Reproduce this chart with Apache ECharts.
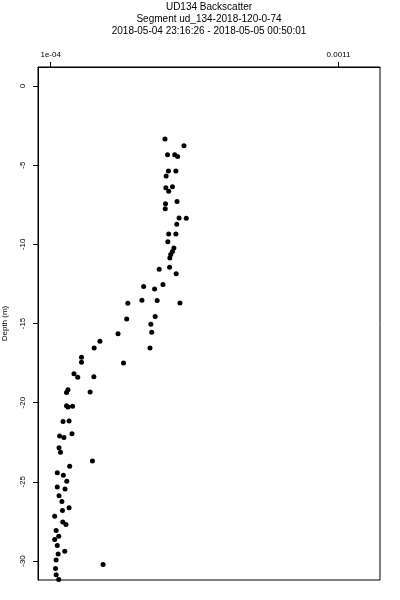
<!DOCTYPE html>
<html>
<head>
<meta charset="utf-8">
<script src="https://cdn.jsdelivr.net/npm/echarts@6/dist/echarts.min.js"></script>
<style>html,body{margin:0;padding:0;background:#fff;}#c{width:400px;height:600px;}</style>
</head>
<body>
<div id="c"></div>
<script>
var titleLines = ["UD134 Backscatter", "Segment ud_134-2018-120-0-74", "2018-05-04 23:16:26 - 2018-05-05 00:50:01"];
var yAxisName = "Depth (m)";
var xTicks = [0.0001, 0.0011];
var xTickLabels = ["1e-04", "0.0011"];
var yTicks = [0, -5, -10, -15, -20, -25, -30];
var backscatter = [
  0.000497, 0.000563, 0.000506, 0.000531, 0.000541, 0.000509, 0.000535, 0.000501,
  0.000500, 0.000523, 0.000510, 0.000539, 0.000499, 0.000498, 0.000546, 0.000571,
  0.000538, 0.000510, 0.000535, 0.000507, 0.000528, 0.000523, 0.000517, 0.000514,
  0.000477, 0.000513, 0.000536, 0.000423, 0.000461, 0.000490, 0.000368, 0.000417,
  0.000470, 0.000549, 0.000364, 0.000463, 0.000448, 0.000451, 0.000334, 0.000271,
  0.000445, 0.000251, 0.000207, 0.000207, 0.000353, 0.000181, 0.000194, 0.000250,
  0.000160, 0.000155, 0.000237, 0.000155, 0.000160, 0.000176, 0.000143, 0.000164,
  0.000131, 0.000146, 0.000174, 0.000129, 0.000134, 0.000245, 0.000166, 0.000123,
  0.000144, 0.000156, 0.000123, 0.000150, 0.000129, 0.000139, 0.000141, 0.000164,
  0.000114, 0.000142, 0.000153, 0.000119, 0.000128, 0.000114, 0.000123, 0.000126,
  0.000149, 0.000119, 0.000282, 0.000117, 0.000119, 0.000128
];
var depth = [
  -3.35, -3.77, -4.34, -4.34, -4.46, -5.37, -5.37, -5.68,
  -6.42, -6.36, -6.65, -7.30, -7.43, -7.75, -8.33, -8.35,
  -8.73, -9.34, -9.34, -9.83, -10.23, -10.45, -10.64, -10.86,
  -11.57, -11.45, -11.85, -12.67, -12.82, -12.54, -13.72, -13.53,
  -13.55, -13.70, -14.71, -14.56, -15.04, -15.55, -15.64, -16.12,
  -16.54, -16.54, -17.13, -17.44, -17.49, -18.18, -18.39, -18.37,
  -19.19, -19.36, -19.32, -20.20, -20.28, -20.22, -21.19, -21.15,
  -22.10, -22.20, -21.97, -22.85, -23.13, -23.69, -24.01, -24.43,
  -24.58, -24.96, -25.33, -25.46, -25.88, -26.24, -26.81, -26.64,
  -27.17, -27.54, -27.70, -28.07, -28.43, -28.64, -29.02, -29.55,
  -29.38, -29.94, -30.22, -30.47, -30.87, -31.17
];

var points = backscatter.map(function (v, i) { return [v, depth[i]]; });
var FONT = "Liberation Sans, Arial, Helvetica, sans-serif";

var chart = echarts.init(document.getElementById('c'), null, {renderer: 'canvas'});
chart.setOption({
  animation: false,
  backgroundColor: '#ffffff',
  title: titleLines.map(function (t, i) {
    return {
      text: t,
      left: 209,
      top: 1.5 + i * 11.7,
      textAlign: 'center',
      padding: 0,
      textStyle: {fontFamily: FONT, fontSize: 10, fontWeight: 'normal', color: '#000', lineHeight: 12}
    };
  }),
  grid: {
    left: 38, right: 20, top: 67, bottom: 20,
    outerBoundsMode: 'none',
    containLabel: false,
    show: true, borderColor: '#000', borderWidth: 1, backgroundColor: 'transparent'
  },
  xAxis: {
    type: 'value',
    position: 'top',
    min: 0.000056,
    max: 0.001244,
    splitLine: {show: false},
    axisLine: {show: true, onZero: false, lineStyle: {color: '#000', width: 1}},
    axisTick: {show: true, inside: false, length: 5, customValues: xTicks, lineStyle: {color: '#000'}},
    axisLabel: {
      show: true, margin: 8, customValues: xTicks,
      fontFamily: FONT, fontSize: 8, color: '#000',
      formatter: function (v) {
        for (var i = 0; i < xTicks.length; i++) {
          if (Math.abs(v - xTicks[i]) < 1e-9) return xTickLabels[i];
        }
        return '';
      }
    }
  },
  yAxis: {
    type: 'value',
    min: -31.2,
    max: 1.2,
    name: yAxisName,
    nameLocation: 'middle',
    nameRotate: 90,
    nameGap: 29,
    nameTextStyle: {fontFamily: FONT, fontSize: 8, color: '#000'},
    splitLine: {show: false},
    axisLine: {show: true, onZero: false, lineStyle: {color: '#000', width: 1}},
    axisTick: {show: true, inside: false, length: 5, customValues: yTicks, lineStyle: {color: '#000'}},
    axisLabel: {
      show: true, rotate: 90, margin: 11, customValues: yTicks,
      fontFamily: FONT, fontSize: 8, color: '#000',
      formatter: function (v) { return String(v); }
    }
  },
  series: [{
    type: 'scatter',
    data: points,
    symbol: 'circle',
    symbolSize: 5,
    itemStyle: {color: '#000', opacity: 1},
    clip: true
  }]
});
</script>
</body>
</html>
